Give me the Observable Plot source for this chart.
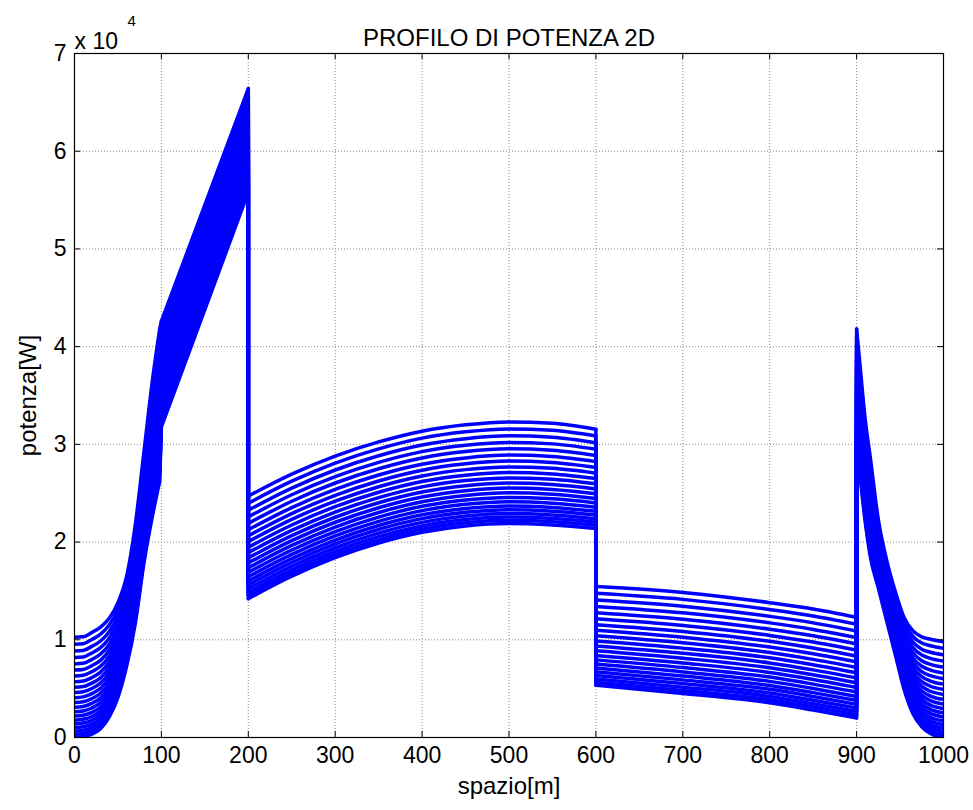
<!DOCTYPE html>
<html>
<head>
<meta charset="utf-8">
<script src="https://cdn.jsdelivr.net/npm/d3@7"></script>
<script src="https://cdn.jsdelivr.net/npm/@observablehq/plot@0.6"></script>
<style>
  body { margin: 0; background: #fff; }
</style>
</head>
<body>
<div id="chart"></div>
<script>
// Power profile along a 1000 m route, one line per run.
// Each stretch stores the lowest and highest run (W) at a few positions (m).

// Start and acceleration, 0–98 m
const launchX    = [0, 10, 20, 30, 40, 50, 60, 70, 80, 90, 98];
const launchLow  = [0, 100, 350, 900, 2100, 4100, 7300, 11700, 17900, 22800, 26200];
const launchHigh = [10250, 10300, 10750, 11300, 12200, 13800, 16500, 21800, 29300, 36800, 41800];

// Climb, 100–200 m
const climbX    = [100, 200];
const climbLow  = [31800, 55800];
const climbHigh = [42600, 66400];

// Cruise, 200–600 m
const cruiseX    = [200, 250, 300, 350, 400, 450, 500, 550, 600];
const cruiseLow  = [14200, 16500, 18400, 19900, 21000, 21650, 21900, 21750, 21400];
const cruiseHigh = [24700, 26950, 28800, 30250, 31350, 32000, 32300, 32150, 31550];

// Descent, 600–900 m
const descentX    = [600, 700, 800, 850, 900];
const descentLow  = [5350, 4500, 3550, 2800, 2000];
const descentHigh = [15450, 14850, 13800, 13150, 12300];

// Final climb and stop, 900–1000 m
const finalX    = [900, 903, 910, 916, 925, 935, 945, 955, 965, 975, 985, 1000];
const finalLow  = [29800, 27500, 22000, 18400, 15300, 11800, 8300, 4800, 2400, 1100, 400, 0];
const finalHigh = [41800, 39000, 32500, 28500, 22300, 18000, 14800, 12200, 10900, 10300, 10050, 9800];

// Where each run sits inside the band (0 = lowest run, 1 = highest run)
const runLevels = [0, 0.031, 0.063, 0.098, 0.135, 0.173, 0.214, 0.257, 0.302, 0.349, 0.398,
                   0.449, 0.502, 0.557, 0.614, 0.673, 0.735, 0.798, 0.863, 0.931, 1];

const xTicks = [0, 100, 200, 300, 400, 500, 600, 700, 800, 900, 1000];
const yTicks = [0, 10000, 20000, 30000, 40000, 50000, 60000, 70000];

const stretches = [
  {x: launchX, low: launchLow, high: launchHigh, curve: "monotone-x"},
  {x: climbX, low: climbLow, high: climbHigh, curve: "linear"},
  {x: cruiseX, low: cruiseLow, high: cruiseHigh, curve: "monotone-x"},
  {x: descentX, low: descentLow, high: descentHigh, curve: "monotone-x"},
  {x: finalX, low: finalLow, high: finalHigh, curve: "monotone-x"}
];

const level = (s, i, t) => s.low[i] + t * (s.high[i] - s.low[i]);

// Long table per stretch: one row per run and position
const stretchRows = stretches.map(s => {
  const rows = [];
  runLevels.forEach((t, run) => s.x.forEach((x, i) => rows.push({run, x, p: level(s, i, t)})));
  return rows;
});

// Steps where one stretch hands over to the next
const steps = [];
runLevels.forEach((t, run) => {
  for (let k = 0; k < stretches.length - 1; k++) {
    const a = stretches[k], b = stretches[k + 1];
    const ia = a.x.length - 1;
    steps.push({run, x1: a.x[ia], y1: level(a, ia, t), x2: b.x[0], y2: level(b, 0, t)});
  }
});

const W = 973, H = 810;
const mLeft = 74, mRight = 30, mTop = 53, mBottom = 73;
const innerW = W - mLeft - mRight, innerH = H - mTop - mBottom;
const tickLen = 6;
const blue = "#0000ff";
const lineWidth = 3.5;
const gridStyle = {stroke: "#8a8a8a", strokeOpacity: 1, strokeWidth: 1, strokeDasharray: "1,2"};

const chart = Plot.plot({
  width: W,
  height: H,
  marginLeft: mLeft,
  marginRight: mRight,
  marginTop: mTop,
  marginBottom: mBottom,
  x: {domain: [0, 1000]},
  y: {domain: [0, 70000]},
  style: {
    fontFamily: "'Liberation Sans', Arial, Helvetica, sans-serif",
    fontSize: "23px",
    color: "#000",
    background: "#fff",
    overflow: "visible"
  },
  marks: [
    Plot.gridX(xTicks, gridStyle),
    Plot.gridY(yTicks, gridStyle),
    ...stretches.map((s, k) => Plot.line(stretchRows[k], {
      x: "x", y: "p", z: "run",
      stroke: blue, strokeWidth: lineWidth, curve: s.curve,
      strokeLinejoin: "round", strokeLinecap: "round", clip: true
    })),
    Plot.link(steps, {
      x1: "x1", y1: "y1", x2: "x2", y2: "y2",
      stroke: blue, strokeWidth: lineWidth, strokeLinecap: "round", clip: true
    }),
    // inward tick marks on all four sides
    Plot.tickX(xTicks, {x: d => d, insetTop: innerH - tickLen, stroke: "#000"}),
    Plot.tickX(xTicks, {x: d => d, insetBottom: innerH - tickLen, stroke: "#000"}),
    Plot.tickY(yTicks, {y: d => d, insetRight: innerW - tickLen, stroke: "#000"}),
    Plot.tickY(yTicks, {y: d => d, insetLeft: innerW - tickLen, stroke: "#000"}),
    Plot.frame({stroke: "#000", strokeWidth: 1.2}),
    Plot.axisX(xTicks, {tickSize: 0, tickPadding: 9, fontSize: 23, label: null, tickFormat: d => String(d)}),
    Plot.axisY(yTicks, {tickSize: 0, tickPadding: 8, fontSize: 23, label: null, tickFormat: d => String(d / 10000)}),
    Plot.text(["PROFILO DI POTENZA 2D"], {frameAnchor: "top", dy: -25, fontSize: 24}),
    Plot.text(["spazio[m]"], {frameAnchor: "bottom", dy: 56, fontSize: 24}),
    Plot.text(["potenza[W]"], {frameAnchor: "left", textAnchor: "middle", dx: -46, rotate: -90, fontSize: 24}),
    Plot.text(["x 10"], {frameAnchor: "top-left", textAnchor: "start", dy: -21, fontSize: 23}),
    Plot.text(["4"], {frameAnchor: "top-left", textAnchor: "start", dx: 53, dy: -38, fontSize: 15})
  ]
});

document.getElementById("chart").appendChild(chart);
</script>
</body>
</html>
